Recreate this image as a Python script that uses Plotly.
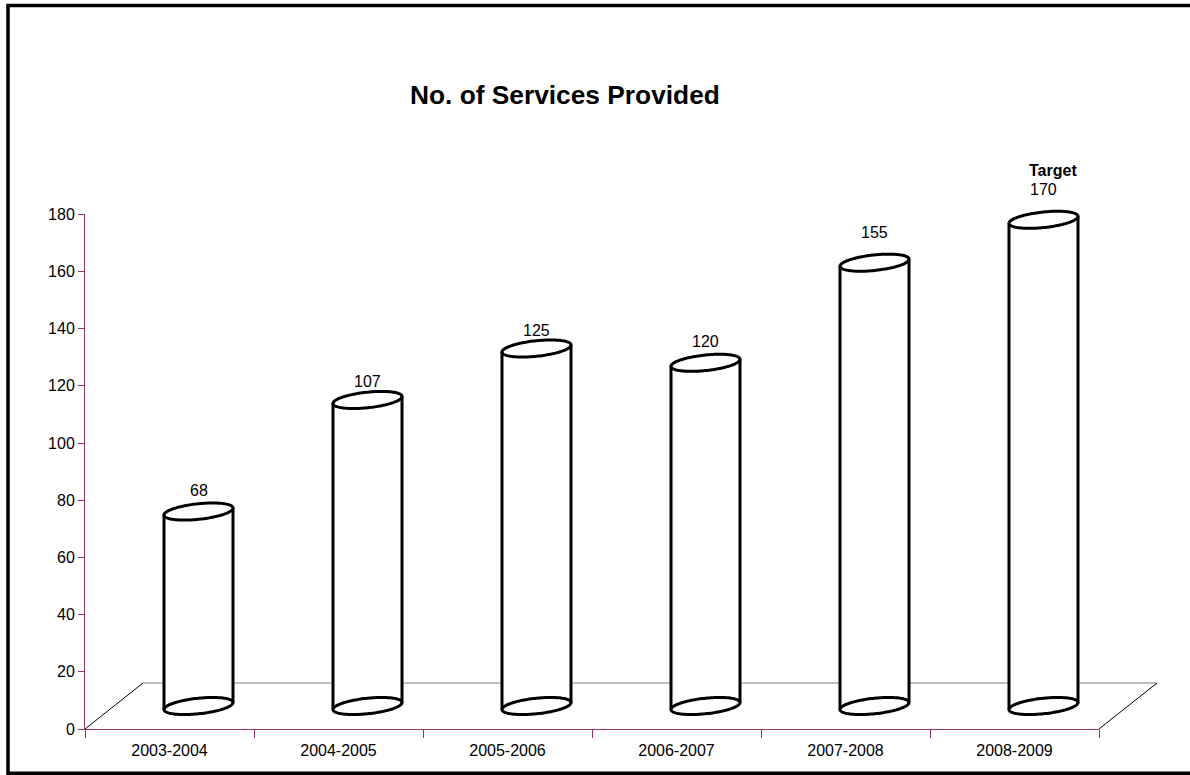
import numpy as np
import plotly.graph_objects as go

# ---- data -------------------------------------------------------------
periods = ["2003-2004", "2004-2005", "2005-2006", "2006-2007", "2007-2008", "2008-2009"]
services = [68, 107, 125, 120, 155, 170]
y_tick_values = [0, 20, 40, 60, 80, 100, 120, 140, 160, 180]
target_period = "2008-2009"
chart_title = "No. of Services Provided"

# ---- page geometry (pixels) -------------------------------------------
FIG_W, FIG_H = 1190, 775
PLOT_LEFT, PLOT_RIGHT = 85, 1099        # front plane of the value axis
PLOT_BOTTOM, PLOT_TOP = 729, 214.2
Y_MAX = 180

N = len(periods)
PX_PER_CAT = (PLOT_RIGHT - PLOT_LEFT) / N
PX_PER_VAL = (PLOT_BOTTOM - PLOT_TOP) / Y_MAX

# 3-D look: depth of the floor and cylinder proportions
DEPTH_X_PX, DEPTH_Y_PX = 58, 46
CYL_HALF_W_PX = 34.5
CYL_ELL_B_PX = 7.8
CYL_ELL_TILT_PX = 3.5
LABEL_LIFT_PX = [21, 18, 18, 21, 30, 30]

AXIS_COLOR = "#993366"
FONT = "Arial, Liberation Sans, sans-serif"

DX = DEPTH_X_PX / PX_PER_CAT
DY = DEPTH_Y_PX / PX_PER_VAL
A = CYL_HALF_W_PX / PX_PER_CAT
B = CYL_ELL_B_PX / PX_PER_VAL
S = CYL_ELL_TILT_PX / PX_PER_VAL

fig = go.Figure()

# front-plane axes (category x / value y)
fig.add_trace(go.Scatter(
    x=periods, y=services, mode="markers",
    marker=dict(opacity=0), hoverinfo="skip", showlegend=False,
    xaxis="x", yaxis="y",
))
# full-page drawing canvas sharing the same units as the axes above
fig.add_trace(go.Scatter(
    x=[0], y=[0], mode="markers", marker=dict(opacity=0),
    hoverinfo="skip", showlegend=False, xaxis="x2", yaxis="y2",
))

x2_range = [-0.5 - PLOT_LEFT / PX_PER_CAT, -0.5 + (FIG_W - PLOT_LEFT) / PX_PER_CAT]
y2_range = [-(FIG_H - PLOT_BOTTOM) / PX_PER_VAL, PLOT_BOTTOM / PX_PER_VAL]

shapes = []

def line(x0, y0, x1, y1, color, width):
    shapes.append(dict(type="line", xref="x2", yref="y2", x0=x0, y0=y0, x1=x1, y1=y1,
                       line=dict(color=color, width=width), layer="above"))

# floor
line(-0.5 + DX, DY, N - 0.5 + DX, DY, "#808080", 1.2)
line(-0.5, 0, -0.5 + DX, DY, "black", 1)
line(N - 0.5, 0, N - 0.5 + DX, DY, "black", 1)


def ellipse_pts(cx, cy, t):
    return cx + A * np.cos(t), cy + B * np.sin(t) + S * np.cos(t)


def to_path(xs, ys, close=False):
    parts = [f"{'M' if k == 0 else 'L'}{x:.5f},{y:.5f}" for k, (x, y) in enumerate(zip(xs, ys))]
    return " ".join(parts) + (" Z" if close else "")


for i, v in enumerate(services):
    cx = i + DX / 2
    cy0 = DY / 2
    cy1 = v + DY / 2
    t_front = np.linspace(np.pi, 2 * np.pi, 60)
    t_back = np.linspace(0, np.pi, 60)
    bx, by = ellipse_pts(cx, cy0, t_front)
    tx, ty = ellipse_pts(cx, cy1, t_back)
    body = to_path(np.concatenate([bx, tx]), np.concatenate([by, ty]), close=True)
    shapes.append(dict(type="path", xref="x2", yref="y2", path=body,
                       fillcolor="white", line=dict(width=0), layer="above"))
    t_full = np.linspace(0, 2 * np.pi, 121)
    for cy in (cy0, cy1):
        ex, ey = ellipse_pts(cx, cy, t_full)
        shapes.append(dict(type="path", xref="x2", yref="y2", path=to_path(ex, ey, close=True),
                           fillcolor="white", line=dict(color="black", width=3), layer="above"))
    for sgn in (-1, 1):
        line(cx + sgn * A, cy0 + sgn * S, cx + sgn * A, cy1 + sgn * S, "black", 3)

# outer frame
shapes.append(dict(type="rect", xref="paper", yref="paper",
                   x0=8 / FIG_W, x1=1.01, y0=1.8 / FIG_H, y1=1 - 5.5 / FIG_H,
                   line=dict(color="black", width=3.5), fillcolor="rgba(0,0,0,0)", layer="above"))

annotations = []
for i, v in enumerate(services):
    cx = i + DX / 2
    annotations.append(dict(xref="x2", yref="y2", x=cx, y=v + DY / 2, text=str(v),
                            showarrow=False, yanchor="middle", yshift=LABEL_LIFT_PX[i],
                            font=dict(family=FONT, size=16, color="black")))
ti = periods.index(target_period)
annotations.append(dict(xref="x2", yref="y2", x=ti + DX / 2, y=services[ti] + DY / 2,
                        text="<b>Target</b>", showarrow=False, yanchor="middle",
                        yshift=LABEL_LIFT_PX[ti] + 19, xshift=9,
                        font=dict(family=FONT, size=16, color="black")))
annotations.append(dict(xref="paper", yref="paper", x=565 / FIG_W, y=1 - 95 / FIG_H,
                        text=f"<b>{chart_title}</b>", showarrow=False,
                        xanchor="center", yanchor="middle",
                        font=dict(family=FONT, size=26.3, color="black")))

fig.update_layout(
    width=FIG_W, height=FIG_H, autosize=False,
    margin=dict(l=0, r=0, t=0, b=0),
    paper_bgcolor="white", plot_bgcolor="rgba(0,0,0,0)",
    showlegend=False,
    font=dict(family=FONT, size=16, color="black"),
    xaxis=dict(
        domain=[PLOT_LEFT / FIG_W, PLOT_RIGHT / FIG_W], anchor="y",
        type="category", categoryorder="array", categoryarray=periods,
        range=[-0.5, N - 0.5], tickson="boundaries",
        ticks="outside", ticklen=8, tickcolor=AXIS_COLOR, tickwidth=1,
        showline=True, linecolor=AXIS_COLOR, linewidth=1,
        showgrid=False, zeroline=False, fixedrange=True, automargin=False,
        ticklabelstandoff=7,
        tickfont=dict(family=FONT, size=16, color="black"),
    ),
    yaxis=dict(
        domain=[(FIG_H - PLOT_BOTTOM) / FIG_H, (FIG_H - PLOT_TOP) / FIG_H], anchor="x",
        range=[0, Y_MAX], tickmode="array", tickvals=y_tick_values,
        ticks="outside", ticklen=6, tickcolor=AXIS_COLOR, tickwidth=1,
        showline=True, linecolor=AXIS_COLOR, linewidth=1,
        showgrid=False, zeroline=False, fixedrange=True, automargin=False,
        tickfont=dict(family=FONT, size=16, color="black"),
    ),
    xaxis2=dict(domain=[0, 1], anchor="y2", range=x2_range, visible=False,
                fixedrange=True, automargin=False),
    yaxis2=dict(domain=[0, 1], anchor="x2", range=y2_range, visible=False,
                fixedrange=True, automargin=False),
    shapes=shapes,
    annotations=annotations,
)

fig.write_html(
    "out.html",
    config={"displayModeBar": False},
    post_script="document.body.style.margin='0';document.body.style.overflow='hidden';",
)
